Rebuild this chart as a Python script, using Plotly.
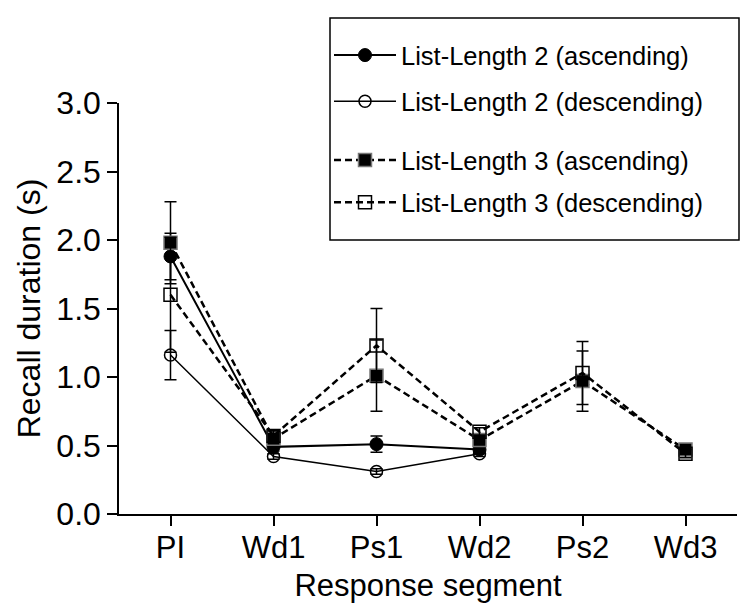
import plotly.graph_objects as go

segments = ["PI", "Wd1", "Ps1", "Wd2", "Ps2", "Wd3"]
ll2_segments = ["PI", "Wd1", "Ps1", "Wd2"]
ll3_segments = ["PI", "Wd1", "Ps1", "Wd2", "Ps2", "Wd3"]

ll2_asc = [1.88, 0.49, 0.51, 0.47]
ll2_asc_err = [0.17, 0.03, 0.06, 0.03]
ll2_desc = [1.16, 0.42, 0.31, 0.44]
ll2_desc_err = [0.18, 0.02, 0.02, 0.02]
ll3_asc = [1.98, 0.55, 1.01, 0.54, 0.97, 0.47]
ll3_asc_err = [0.30, 0.05, 0.26, 0.04, 0.22, 0.03]
ll3_desc = [1.60, 0.57, 1.23, 0.60, 1.03, 0.44]
ll3_desc_err = [0.42, 0.04, 0.27, 0.03, 0.23, 0.03]

FONT = "Arial, Liberation Sans, sans-serif"

def err(vals):
    return dict(type="data", array=vals, visible=True, color="black", thickness=1.5, width=6)

fig = go.Figure()
fig.add_trace(go.Scatter(
    x=ll2_segments, y=ll2_asc, error_y=err(ll2_asc_err), mode="lines+markers",
    name="List-Length 2 (ascending)", legend="legend", legendgroup="a",
    line=dict(color="black", width=2),
    marker=dict(symbol="circle", size=13, color="black", line=dict(color="black", width=1))))
fig.add_trace(go.Scatter(
    x=ll2_segments, y=ll2_desc, error_y=err(ll2_desc_err), mode="lines+markers",
    name="List-Length 2 (descending)", legend="legend", legendgroup="b",
    line=dict(color="black", width=1.5),
    marker=dict(symbol="circle-open", size=12, color="black", line=dict(color="black", width=1.5))))
fig.add_trace(go.Scatter(
    x=ll3_segments, y=ll3_asc, error_y=err(ll3_asc_err), mode="lines+markers",
    name="List-Length 3 (ascending)", legend="legend2", legendgroup="c",
    line=dict(color="black", width=2.5, dash="7px,4px"),
    marker=dict(symbol="square", size=13, color="black", line=dict(color="#777777", width=1.5))))
fig.add_trace(go.Scatter(
    x=ll3_segments, y=ll3_desc, error_y=err(ll3_desc_err), mode="lines+markers",
    name="List-Length 3 (descending)", legend="legend2", legendgroup="d",
    line=dict(color="black", width=2.5, dash="7px,4px"),
    marker=dict(symbol="square-open", size=13, color="black", line=dict(color="black", width=1.5))))

# legend frame (paper coordinates derived from the 111..729 x 95..506 plot area)
fig.add_shape(type="rect", xref="paper", yref="paper",
              x0=(322 - 111) / 618, x1=(731 - 111) / 618,
              y0=(506 - 232) / 411, y1=(506 - 10) / 411,
              line=dict(color="black", width=1.5), fillcolor="white", layer="below")

legend_common = dict(xanchor="left", yanchor="top", borderwidth=0,
                     bgcolor="rgba(0,0,0,0)", font=dict(size=25.5, family=FONT),
                     itemwidth=62)

fig.update_layout(
    width=750, height=612,
    margin=dict(l=111, r=21, t=95, b=106),
    paper_bgcolor="white", plot_bgcolor="rgba(0,0,0,0)",
    font=dict(family=FONT, color="black", size=27),
    showlegend=True,
    legend=dict(x=(321 - 111) / 618, y=(506 - 24) / 411, tracegroupgap=10, **legend_common),
    legend2=dict(x=(321 - 111) / 618, y=(506 - 129) / 411, tracegroupgap=6, **legend_common),
    xaxis=dict(
        type="category", categoryorder="array", categoryarray=segments,
        range=[-0.5, 5.5], showline=True, linecolor="black", linewidth=1.5,
        ticks="outside", ticklen=10, tickwidth=1.5, tickcolor="black",
        showgrid=False, zeroline=False, ticklabelstandoff=-5,
        tickfont=dict(size=31, family=FONT),
        title=dict(text="Response segment", font=dict(size=31, family=FONT), standoff=10)),
    yaxis=dict(
        range=[0, 3.0], tickvals=[0, 0.5, 1.0, 1.5, 2.0, 2.5, 3.0],
        ticktext=["0.0", "0.5", "1.0", "1.5", "2.0", "2.5", "3.0"],
        showline=True, linecolor="black", linewidth=1.5,
        ticks="outside", ticklen=10, tickwidth=1.5, tickcolor="black",
        showgrid=False, zeroline=False,
        tickfont=dict(size=32, family=FONT),
        title=dict(text="Recall duration (s)", font=dict(size=32, family=FONT), standoff=6)),
)

fig.write_html("out.html")
